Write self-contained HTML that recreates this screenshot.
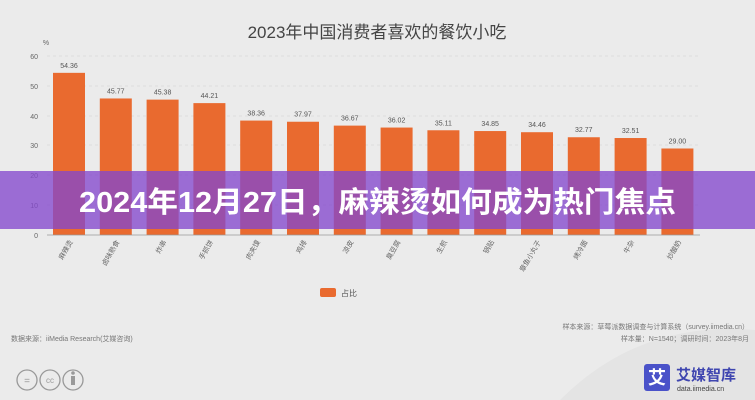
<!DOCTYPE html>
<html><head><meta charset="utf-8"><style>
html,body{margin:0;padding:0;background:#ebebeb;}
svg{display:block;font-family:"Liberation Sans","Noto Sans CJK SC",sans-serif;}
</style></head><body>
<svg width="755" height="400" viewBox="0 0 755 400">
<rect width="755" height="400" fill="#ebebeb"/>
<path d="M560 400 Q640 320 755 330 L755 400Z" fill="#e4e4e4"/>
<text x="377" y="38" font-size="17" fill="#444" text-anchor="middle">2023年中国消费者喜欢的餐饮小吃</text>
<text x="46" y="45" font-size="7" fill="#666" text-anchor="middle">%</text>
<g font-size="7" fill="#666" text-anchor="end">
<text x="38" y="59">60</text><text x="38" y="89">50</text><text x="38" y="119">40</text><text x="38" y="148">30</text><text x="38" y="178">20</text><text x="38" y="208">10</text><text x="38" y="238">0</text>
</g>
<g stroke="#d8d8d8" stroke-dasharray="3,3" stroke-width="0.8">
<line x1="47" y1="56" x2="700" y2="56"/><line x1="47" y1="86" x2="700" y2="86"/><line x1="47" y1="116" x2="700" y2="116"/><line x1="47" y1="145" x2="700" y2="145"/><line x1="47" y1="175" x2="700" y2="175"/><line x1="47" y1="205" x2="700" y2="205"/>
</g>
<g id="bars" fill="#e96a2f"></g>
<line x1="47" y1="235" x2="700" y2="235" stroke="#999" stroke-width="0.8"/>
<g id="vals" font-size="7" fill="#555" text-anchor="middle"></g>
<g id="labs" font-size="7" fill="#666" text-anchor="end"></g>
<rect x="320" y="288" width="16" height="9" rx="2" fill="#e96a2f"/>
<text x="341" y="296" font-size="8" fill="#555">占比</text>
<text x="749" y="329" font-size="7" fill="#777" text-anchor="end">样本来源：草莓派数据调查与计算系统（survey.iimedia.cn）</text>
<text x="749" y="341" font-size="7" fill="#777" text-anchor="end">样本量：N=1540；调研时间：2023年8月</text>
<text x="11" y="341" font-size="7" fill="#777">数据来源：iiMedia Research(艾媒咨询)</text>
<g fill="none" stroke="#999" stroke-width="1.3">
<circle cx="27" cy="380" r="10"/><circle cx="50" cy="380" r="10"/><circle cx="73" cy="380" r="10"/>
</g>
<text x="27" y="384" font-size="10" fill="#999" text-anchor="middle">=</text>
<text x="50" y="383" font-size="8" fill="#999" text-anchor="middle">cc</text>
<rect x="71" y="376" width="4" height="9" fill="#999"/><circle cx="73" cy="373" r="1.8" fill="#999"/>
<rect x="644" y="364" width="26" height="27" rx="3" fill="#4a52c9"/>
<text x="657" y="384" font-size="18" fill="#fff" text-anchor="middle" font-weight="bold">艾</text>
<text x="676" y="380" font-size="15" fill="#3f46b0" font-weight="bold">艾媒智库</text>
<text x="677" y="391" font-size="7" fill="#444">data.iimedia.cn</text>
<rect x="0" y="171" width="755" height="58" fill="rgba(132,72,205,0.78)"/>
<text x="79" y="212" font-size="29" font-weight="bold" fill="#fff" textLength="597" lengthAdjust="spacingAndGlyphs">2024年12月27日，麻辣烫如何成为热门焦点</text>
<script>
var v=[54.36,45.77,45.38,44.21,38.36,37.97,36.67,36.02,35.11,34.85,34.46,32.77,32.51,29.00];
var n=["麻辣烫","卤味熟食","炸串","手抓饼","肉夹馍","鸡排","凉皮","臭豆腐","生煎","锅贴","章鱼小丸子","烤冷面","牛杂","炒酸奶"];
var ns="http://www.w3.org/2000/svg",b=document.getElementById("bars"),t=document.getElementById("vals"),l=document.getElementById("labs");
for(var i=0;i<14;i++){var cx=69+i*46.8,h=v[i]*2.983,y=235-h;
var r=document.createElementNS(ns,"rect");r.setAttribute("x",cx-16);r.setAttribute("y",y);r.setAttribute("width",32);r.setAttribute("height",h);b.appendChild(r);
var s=document.createElementNS(ns,"text");s.setAttribute("x",cx);s.setAttribute("y",y-5);s.textContent=v[i].toFixed(2);t.appendChild(s);
var q=document.createElementNS(ns,"text");q.setAttribute("transform","translate("+(cx+4)+",242) rotate(-60)");q.textContent=n[i];l.appendChild(q);}
</script>
</svg>
</body></html>
